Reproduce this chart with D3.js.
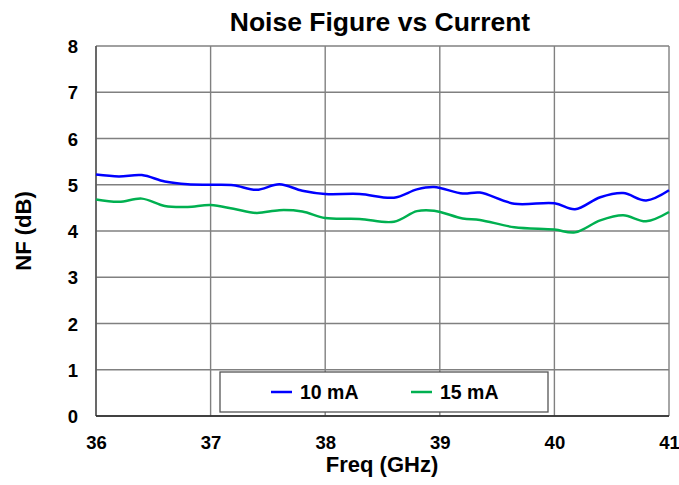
<!DOCTYPE html>
<html><head><meta charset="utf-8">
<script src="https://cdn.jsdelivr.net/npm/d3@7"></script>
<style>body{margin:0;background:#fff}svg{display:block;font-family:"Liberation Sans",Arial,sans-serif}</style>
</head><body><svg id="c" width="679" height="485"></svg>
<script>
const freq = [36.0,36.2,36.4,36.6,36.8,37.0,37.2,37.4,37.6,37.8,38.0,38.3,38.6,38.8,38.95,39.2,39.35,39.65,40.0,40.18,40.4,40.6,40.8,41.0];
const nf10 = [5.22,5.18,5.21,5.07,5.01,5.00,4.99,4.89,5.01,4.87,4.80,4.80,4.72,4.90,4.95,4.81,4.83,4.59,4.60,4.47,4.73,4.82,4.66,4.88];
const nf15 = [4.68,4.63,4.70,4.54,4.52,4.56,4.48,4.39,4.45,4.42,4.28,4.26,4.20,4.43,4.44,4.27,4.24,4.08,4.03,3.97,4.23,4.34,4.21,4.41];
const xTicks = [36,37,38,39,40,41];
const yTicks = [0,1,2,3,4,5,6,7,8];
const seriesNames = ["10 mA","15 mA"];
const seriesColors = ["#0000FF","#00B050"];

const svg = d3.select("#c");
const m = {l:96, r:669, t:46, b:416};
const x = d3.scaleLinear().domain([36,41]).range([m.l,m.r]);
const y = d3.scaleLinear().domain([0,8]).range([m.b,m.t]);

// grid
svg.append("g").selectAll("line").data(yTicks).join("line")
  .attr("x1",m.l).attr("x2",m.r).attr("y1",d=>y(d)).attr("y2",d=>y(d))
  .attr("stroke","#808080").attr("stroke-width",1.4);
svg.append("g").selectAll("line").data(xTicks).join("line")
  .attr("y1",m.t).attr("y2",m.b).attr("x1",d=>x(d)).attr("x2",d=>x(d))
  .attr("stroke","#808080").attr("stroke-width",1.4);
// frame
svg.append("line").attr("x1",m.l).attr("x2",m.l).attr("y1",m.t).attr("y2",m.b).attr("stroke","#555").attr("stroke-width",1.5);
svg.append("line").attr("x1",m.l).attr("x2",m.r).attr("y1",m.b).attr("y2",m.b).attr("stroke","#222").attr("stroke-width",1.5);

// axes labels
const xa = d3.axisBottom(x).tickValues(xTicks).tickSize(0).tickPadding(0).tickFormat(d3.format("d"));
const gx = svg.append("g").attr("transform",`translate(0,${m.b})`).call(xa);
gx.select(".domain").remove();
gx.selectAll("text").attr("dy",null).attr("y",33).attr("font-size",18.5).attr("font-weight","bold").attr("fill","#000").attr("font-family","Liberation Sans, Arial, sans-serif");
const ya = d3.axisLeft(y).tickValues(yTicks).tickSize(0).tickPadding(18).tickFormat(d3.format("d"));
const gy = svg.append("g").attr("transform",`translate(${m.l},0)`).call(ya);
gy.select(".domain").remove();
gy.selectAll("text").attr("dy","0.36em").attr("font-size",18.5).attr("font-weight","bold").attr("fill","#000").attr("font-family","Liberation Sans, Arial, sans-serif");

// lines
const line = d3.line().x(d=>x(d[0])).y(d=>y(d[1])).curve(d3.curveCatmullRom.alpha(0.5));
[nf10,nf15].forEach((vals,i)=>{
  svg.append("path").datum(freq.map((f,j)=>[f,vals[j]]))
    .attr("d",line).attr("fill","none").attr("stroke",seriesColors[i]).attr("stroke-width",2.5);
});

// legend
const lg = svg.append("g");
lg.append("rect").attr("x",220).attr("y",372).attr("width",328).attr("height",40)
  .attr("fill","#fff").attr("stroke","#555").attr("stroke-width",1.3);
const lx = [271,411];
seriesNames.forEach((n,i)=>{
  lg.append("line").attr("x1",lx[i]).attr("x2",lx[i]+21).attr("y1",392).attr("y2",392)
    .attr("stroke",seriesColors[i]).attr("stroke-width",2.5);
  lg.append("text").attr("x",lx[i]+29).attr("y",399).text(n)
    .attr("font-size",19.5).attr("font-weight","bold");
});

// titles
svg.append("text").attr("x",380).attr("y",31).attr("text-anchor","middle")
  .attr("font-size",26.5).attr("font-weight","bold").text("Noise Figure vs Current");
svg.append("text").attr("x",382).attr("y",472).attr("text-anchor","middle")
  .attr("font-size",22).attr("font-weight","bold").text("Freq (GHz)");
svg.append("text").attr("transform","translate(31,231) rotate(-90)").attr("text-anchor","middle")
  .attr("font-size",22).attr("font-weight","bold").text("NF (dB)");
</script></body></html>
